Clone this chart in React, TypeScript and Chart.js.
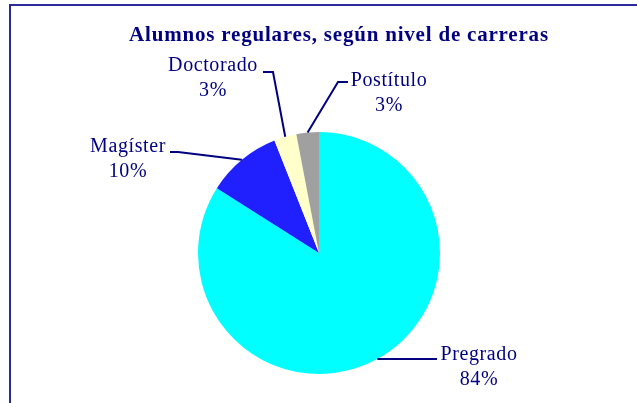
import React, { useEffect, useRef } from "react";
import { Chart, registerables } from "chart.js";

Chart.register(...registerables);

const TITLE = "Alumnos regulares, según nivel de carreras";
const categories = ["Pregrado", "Magíster", "Doctorado", "Postítulo"];
const values = [84, 10, 3, 3];
const colors = ["#00FFFF", "#2020FF", "#FFFFCC", "#A0A0A0"];

// label layout: name anchor (center x, baseline y) and leader path points (from label toward slice)
const labelLayout = [
  { x: 479, y: 360, path: [[437, 359]] },
  { x: 128, y: 152, path: [[170, 152], [178, 152]] },
  { x: 213, y: 71, path: [[263, 72], [273, 72]] },
  { x: 389, y: 86, path: [[348, 82], [338, 82]] },
];

const NAVY = "#000080";

const overlay = {
  id: "overlay",
  afterDraw(chart: any) {
    const ctx = chart.ctx as CanvasRenderingContext2D;
    ctx.save();
    // frame
    ctx.strokeStyle = "#2a2a9c";
    ctx.lineWidth = 2;
    ctx.beginPath();
    ctx.moveTo(10, chart.height + 5);
    ctx.lineTo(10, 5);
    ctx.lineTo(chart.width + 5, 5);
    ctx.stroke();

    // title
    ctx.fillStyle = NAVY;
    ctx.font = "bold 21px 'Liberation Serif'";
    (ctx as any).letterSpacing = "0.8px";
    ctx.textAlign = "center";
    ctx.textBaseline = "alphabetic";
    ctx.fillText(TITLE, 339, 41);
    (ctx as any).letterSpacing = "0px";

    const meta = chart.getDatasetMeta(0);
    const total = values.reduce((a, b) => a + b, 0);
    ctx.strokeStyle = NAVY;
    ctx.lineWidth = 2;
    meta.data.forEach((arc: any, i: number) => {
      const p = arc.getProps(["x", "y", "startAngle", "endAngle", "outerRadius"], true);
      const mid = (p.startAngle + p.endAngle) / 2;
      const ax = p.x + Math.cos(mid) * p.outerRadius;
      const ay = p.y + Math.sin(mid) * p.outerRadius;
      const lay = labelLayout[i];
      ctx.beginPath();
      ctx.moveTo(lay.path[0][0], lay.path[0][1]);
      for (let k = 1; k < lay.path.length; k++) ctx.lineTo(lay.path[k][0], lay.path[k][1]);
      ctx.lineTo(ax, ay);
      ctx.stroke();

      ctx.font = "20px 'Liberation Serif'";
      (ctx as any).letterSpacing = "0.6px";
      ctx.fillStyle = NAVY;
      ctx.textAlign = "center";
      ctx.fillText(categories[i], lay.x, lay.y);
      const pct = Math.round((values[i] / total) * 100) + "%";
      ctx.fillText(pct, lay.x, lay.y + 25);
      (ctx as any).letterSpacing = "0px";
    });
    ctx.restore();
  },
};

export default function App() {
  const ref = useRef<HTMLCanvasElement>(null);
  useEffect(() => {
    if (!ref.current) return;
    const chart = new Chart(ref.current, {
      type: "pie",
      data: {
        labels: categories,
        datasets: [
          {
            data: values,
            backgroundColor: colors,
            borderWidth: 0,
            offset: 0,
            hoverOffset: 0,
          },
        ],
      },
      options: {
        responsive: false,
        animation: false,
        layout: { padding: { left: 198, right: 197, top: 132, bottom: 29 } },
        plugins: {
          legend: { display: false },
          title: { display: false },
          tooltip: { enabled: false },
        },
      },
      plugins: [overlay],
    });
    return () => chart.destroy();
  }, []);
  return (
    <div style={{ position: "fixed", left: 0, top: 0, width: 637, height: 403, background: "#fff" }}>
      <canvas ref={ref} width={637} height={403} style={{ width: 637, height: 403, display: "block" }} />
    </div>
  );
}
